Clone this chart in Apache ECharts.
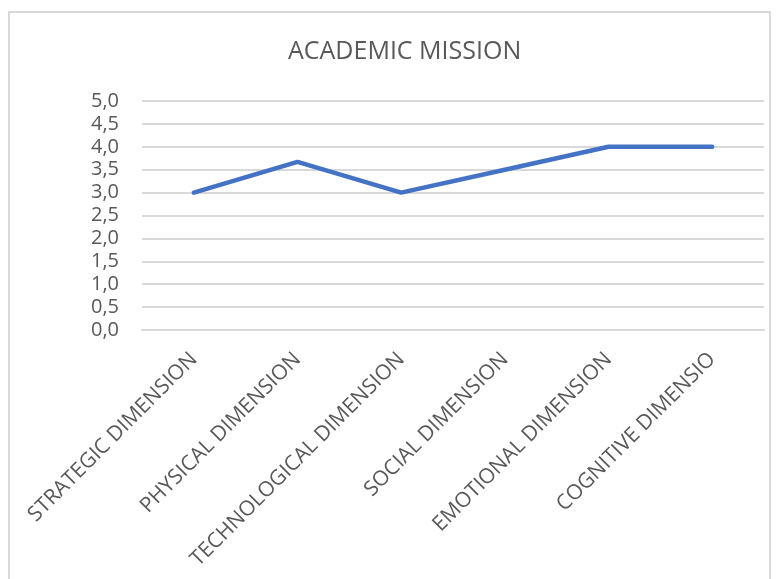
<!DOCTYPE html>
<html>
<head>
<meta charset="utf-8">
<script src="https://cdn.jsdelivr.net/npm/echarts@6/dist/echarts.min.js"></script>
<style>
  html, body { margin: 0; padding: 0; background: #fff; }
  #chart { width: 782px; height: 579px; }
</style>
</head>
<body>
<div id="chart"></div>
<script>
const categories = ['STRATEGIC DIMENSION', 'PHYSICAL DIMENSION', 'TECHNOLOGICAL DIMENSION',
  'SOCIAL DIMENSION', 'EMOTIONAL DIMENSION', 'COGNITIVE DIMENSIO'];
const scores = [3.0, 3.67, 3.0, 3.5, 4.0, 4.0];
const yTicks = [0, 0.5, 1, 1.5, 2, 2.5, 3, 3.5, 4, 4.5, 5];

const chart = echarts.init(document.getElementById('chart'));
chart.setOption({
  animation: false,
  textStyle: { fontFamily: 'Open Sans' },
  graphic: [{
    type: 'rect',
    shape: { x: 9, y: 12, width: 761, height: 600 },
    style: { fill: 'none', stroke: '#d9d9d9', lineWidth: 2 }
  }],
  title: {
    text: 'ACADEMIC MISSION',
    left: 283,
    top: 34,
    textStyle: { color: '#595959', fontSize: 25, fontWeight: 'normal', fontFamily: 'Open Sans' }
  },
  grid: { left: 142, right: 18, top: 101, bottom: 249 },
  xAxis: {
    type: 'category',
    data: categories,
    boundaryGap: true,
    axisLine: { show: true, lineStyle: { color: '#d9d9d9', width: 2 } },
    axisTick: { show: false },
    axisLabel: {
      rotate: 45,
      interval: 0,
      margin: 26,
      color: '#595959',
      fontSize: 21
    }
  },
  yAxis: {
    type: 'value',
    min: yTicks[0],
    max: yTicks[yTicks.length - 1],
    interval: 0.5,
    axisLine: { show: false },
    axisTick: { show: false },
    splitLine: { lineStyle: { color: '#d9d9d9', width: 2 } },
    axisLabel: {
      color: '#595959',
      fontSize: 20,
      margin: 23,
      formatter: v => v.toFixed(1).replace('.', ',')
    }
  },
  series: [{
    type: 'line',
    data: scores,
    showSymbol: false,
    symbol: 'none',
    lineStyle: { color: '#4472C4', width: 4.5, cap: 'round', join: 'round' }
  }]
});
</script>
</body>
</html>
